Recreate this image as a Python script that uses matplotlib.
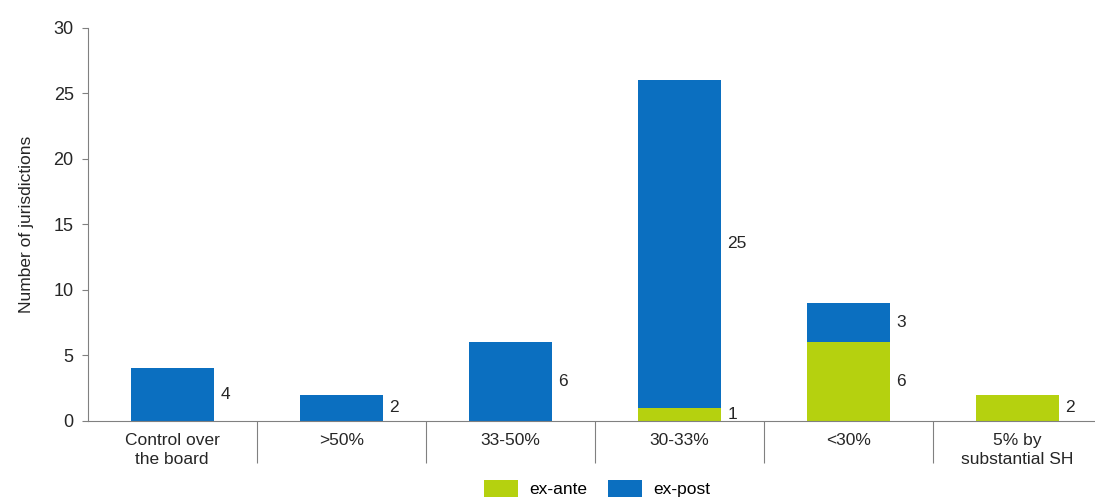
import matplotlib.pyplot as plt
import numpy as np

plt.rcParams['font.family'] = ['Liberation Sans', 'DejaVu Sans']

categories = ['Control over\nthe board', '>50%', '33-50%', '30-33%', '<30%',
              '5% by\nsubstantial SH']
ex_ante = [0, 0, 0, 1, 6, 2]
ex_post = [4, 2, 6, 25, 3, 0]

green = '#b5d10f'
blue = '#0b6fc0'
grey = '#808080'
txt = '#262626'

fig = plt.figure(figsize=(10.95, 4.98), dpi=100)
ax = fig.add_axes([0.080, 0.155, 0.92, 0.789])

x = np.arange(len(categories))
w = 0.49
ax.bar(x, ex_ante, w, color=green, label='ex-ante')
ax.bar(x, ex_post, w, bottom=ex_ante, color=blue, label='ex-post')

# value labels to the right of each segment
for i in range(len(categories)):
    if ex_ante[i] > 0:
        ax.text(x[i] + w / 2 + 0.04, ex_ante[i] / 2, str(ex_ante[i]),
                va='center', ha='left', fontsize=12.5, color=txt)
    if ex_post[i] > 0:
        ax.text(x[i] + w / 2 + 0.04, ex_ante[i] + ex_post[i] / 2, str(ex_post[i]),
                va='center', ha='left', fontsize=12.5, color=txt)

ax.set_xlim(-0.5, 5.46)
ax.set_ylim(0, 30)
ax.set_yticks(range(0, 31, 5))
ax.set_xticks(x)
ax.set_xticklabels(categories, fontsize=12.5, color=txt, linespacing=1.3)
ax.set_xticks(np.arange(0.5, 5, 1), minor=True)
ax.tick_params(axis='x', which='major', length=0, pad=9)
ax.tick_params(axis='x', which='minor', length=30, color=grey, width=0.8)
ax.tick_params(axis='y', length=4, color=grey, width=0.8, labelsize=13,
               labelcolor=txt, pad=6)
ax.set_ylabel('Number of jurisdictions', fontsize=12.5, color=txt, labelpad=14)

for s in ['top', 'right']:
    ax.spines[s].set_visible(False)
ax.spines['left'].set_color(grey)
ax.spines['bottom'].set_color(grey)
ax.spines['left'].set_linewidth(0.8)
ax.spines['bottom'].set_linewidth(0.8)

fig.legend(loc='lower center', bbox_to_anchor=(0.545, -0.03), ncol=2,
           frameon=False, fontsize=12.5, handlelength=2.0, handleheight=1.1,
           columnspacing=1.2, handletextpad=0.6)

fig.savefig('out.png', dpi=100)
